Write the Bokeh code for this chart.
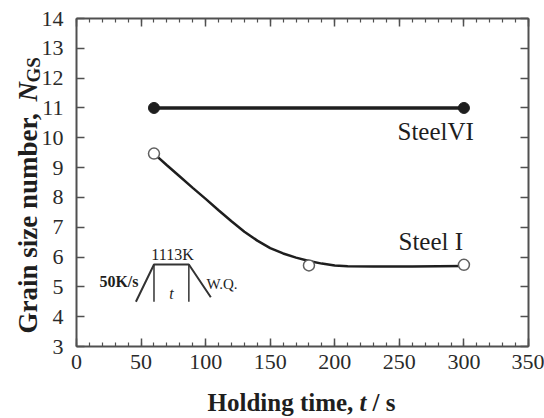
import math
from bokeh.plotting import figure
from bokeh.models import LinearAxis, SingleIntervalTicker, Label
from bokeh.embed import file_html
from bokeh.resources import INLINE

# ---- data ----
steel6_t = [60, 300]
steel6_n = [11.0, 11.0]

steel1_t = [60, 180, 300]
steel1_n = [9.47, 5.72, 5.74]

fit_t = [60, 70, 80, 90, 100, 110, 120, 130, 140, 150, 160, 170, 180, 190, 200, 210, 230, 260, 300]
fit_n = [9.47, 9.08, 8.70, 8.32, 7.95, 7.57, 7.20, 6.85, 6.55, 6.30, 6.12, 5.98, 5.87, 5.78, 5.72, 5.69, 5.68, 5.68, 5.70]

# heat-treatment schematic (inset)
sch_t = [46, 60, 87, 104]
sch_n = [4.5, 5.75, 5.75, 4.65]
sch_v1_t = [60, 60]
sch_v2_t = [87, 87]
sch_v_n = [5.75, 4.5]

x_ticks_interval = 50
y_ticks_interval = 1

FONT = "Liberation Serif"
INK = "#1e1e1e"
AX = "#505050"

W, H = 544, 418
L, R, T, B = 76, 16, 18, 72          # where the axes box sits in the canvas
X0, X1, Y0, Y1 = 0, 350, 3, 14       # axis limits
SX = (W - L - R) / (X1 - X0)
SY = (H - T - B) / (Y1 - Y0)

def px2x(px):
    return X0 + (px - L) / SX

def px2y(py):
    return Y1 - (py - T) / SY

p = figure(width=W, height=H,
           x_range=(px2x(0), px2x(W)), y_range=(px2y(H), px2y(0)),
           x_axis_location=None, y_axis_location=None,
           output_backend="svg", toolbar_location=None,
           min_border=0)
p.background_fill_color = "white"
p.border_fill_color = "white"
p.outline_line_color = None
p.xgrid.visible = False
p.ygrid.visible = False

def make_axis(loc, bounds, ticker, labels=True):
    ax = LinearAxis(fixed_location=loc, bounds=bounds, ticker=ticker)
    ax.axis_line_color = AX
    ax.axis_line_width = 2
    ax.major_tick_line_color = AX
    ax.major_tick_line_width = 1.5
    ax.minor_tick_line_color = AX
    ax.minor_tick_line_width = 1.2
    ax.major_tick_in = 8
    ax.major_tick_out = 0
    ax.minor_tick_in = 4
    ax.minor_tick_out = 0
    ax.major_label_text_font = FONT
    ax.major_label_text_font_style = "normal"
    ax.major_label_text_font_size = "22px"
    if labels:
        ax.major_label_text_color = "#2a2a2a"
    else:
        ax.major_label_text_color = None
        ax.major_label_standoff = 0
    return ax

bottom_ax = make_axis(Y0, (X0, X1), SingleIntervalTicker(interval=x_ticks_interval, num_minor_ticks=5))
left_ax = make_axis(X0, (Y0, Y1), SingleIntervalTicker(interval=y_ticks_interval, num_minor_ticks=0))
top_ax = make_axis(Y1, (X0, X1), SingleIntervalTicker(interval=x_ticks_interval, num_minor_ticks=5), labels=False)
right_ax = make_axis(X1, (Y0, Y1), SingleIntervalTicker(interval=y_ticks_interval, num_minor_ticks=0), labels=False)
bottom_ax.major_label_standoff = 8
left_ax.major_label_standoff = 13
p.add_layout(bottom_ax, "below")
p.add_layout(left_ax, "left")
p.add_layout(top_ax, "above")
p.add_layout(right_ax, "right")

# ---- series ----
p.line(steel6_t, steel6_n, line_color=INK, line_width=3.5)
p.scatter(steel6_t, steel6_n, size=11, marker="circle", fill_color=INK, line_color=INK)

p.line(fit_t, fit_n, line_color=INK, line_width=2.5)
p.scatter(steel1_t, steel1_n, size=11, marker="circle", fill_color="white",
          line_color="#606060", line_width=1.5)

# ---- inset schematic ----
p.line(sch_t, sch_n, line_color="#333333", line_width=2)
p.line(sch_v1_t, sch_v_n, line_color="#333333", line_width=1.5)
p.line(sch_v2_t, sch_v_n, line_color="#333333", line_width=1.5)

def lab(text, px, py, size, style="normal", align="left", baseline="middle", angle=0.0, color=INK):
    p.add_layout(Label(x=px2x(px), y=px2y(py), text=text, text_font=FONT,
                       text_font_size=f"{size}px", text_font_style=style,
                       text_align=align, text_baseline=baseline, angle=angle,
                       text_color=color))

lab("1113K", 172, 254, 16, align="center")
lab("50K/s", 138, 281, 16, style="bold", align="right")
lab("W.Q.", 206, 283, 15)
lab("t", 171, 293, 16, style="italic", align="center")

lab("SteelVI", 397, 131, 25)
lab("Steel I", 398, 241, 25)

# x axis title: Holding time, t / s
lab("Holding time,", 207, 402, 25, style="bold")
lab("t", 359, 402, 25, style="bold italic")
lab("/ s", 372, 402, 25, style="bold")

# y axis title: Grain size number, N_GS (rotated)
a = math.pi / 2
lab("Grain size number,", 27, 333, 27, style="bold", angle=a)
lab("N", 27, 101, 27, style="bold italic", angle=a)
lab("GS", 33, 82, 19, style="bold", angle=a)

open("out.html", "w").write(file_html(p, INLINE))
